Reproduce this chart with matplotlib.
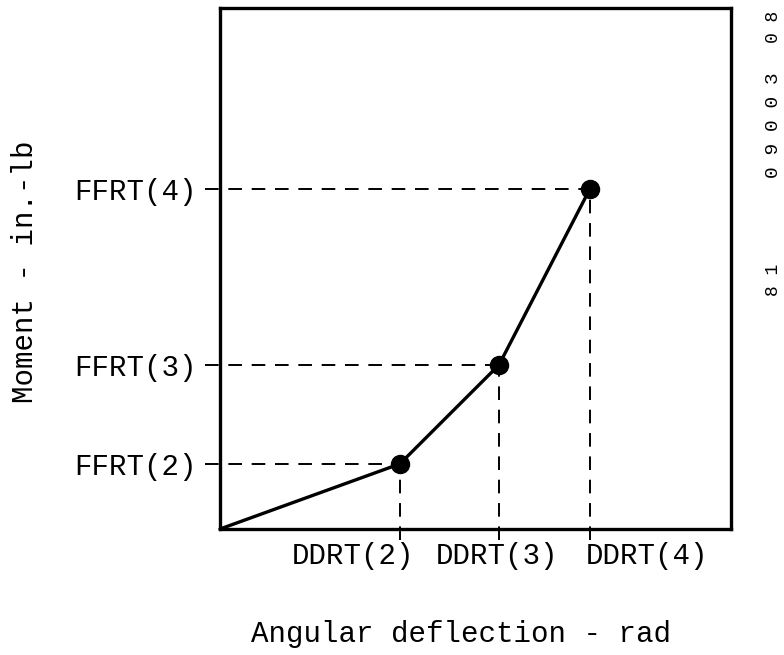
import matplotlib
matplotlib.use("Agg")
import matplotlib.pyplot as plt
from matplotlib.transforms import blended_transform_factory, offset_copy

# Data (normalised)
deflection = [0.0, 0.352, 0.546, 0.724]
moment = [0.0, 0.125, 0.315, 0.653]
x_labels = ["DDRT(2)", "DDRT(3)", "DDRT(4)"]
y_labels = ["FFRT(2)", "FFRT(3)", "FFRT(4)"]
x_title = "Angular deflection - rad"
y_title = "Moment - in.-lb"
side_code = ["8 1", "0 9 0 0 3", "0 8"]

plt.rcParams['font.family'] = ['Liberation Mono', 'DejaVu Sans Mono']
FS = 21

fig = plt.figure(figsize=(7.84, 6.55), dpi=100)
ax = fig.add_axes([220/784, 1-529/655, 511/784, 521/655])
ax.set_xlim(0, 1)
ax.set_ylim(0, 1)
for s in ax.spines.values():
    s.set_linewidth(2.4)

# curve
ax.plot(deflection, moment, color='black', lw=2.4, solid_capstyle='round', zorder=3, clip_on=False)
ax.plot(deflection[1:], moment[1:], 'o', color='black', ms=13, zorder=4)

# dashed guide lines
dash = (7, 5)
for xv, yv in zip(deflection[1:], moment[1:]):
    ax.plot([-0.03, xv], [yv, yv], color='black', lw=1.4, dashes=dash, clip_on=False)
    ax.plot([xv, xv], [-0.022, yv], color='black', lw=1.4, dashes=dash, clip_on=False)

# y tick labels
ax.set_yticks(moment[1:])
ax.set_yticklabels(y_labels, fontsize=FS)
ax.tick_params(axis='y', length=0, pad=17)
ax.set_xticks([])

# x labels (placed as in the original, not centred)
x_left_offsets = [-108, -63, -4]  # pixels relative to each point
trans = blended_transform_factory(ax.transData, ax.transAxes)
for xv, lab, off in zip(deflection[1:], x_labels, x_left_offsets):
    t = offset_copy(trans, fig=fig, x=off * 72 / 100, y=0, units='points')
    ax.text(xv, -0.025, lab, transform=t, ha='left', va='top', fontsize=FS)

fig.text(461/784, 1-634/655, x_title, ha='center', va='center', fontsize=FS)
fig.text(25/784, 1-272/655, y_title, ha='center', va='center', rotation=90, fontsize=FS)

# side code
fig.text(773/784, 1-280/655, side_code[0], ha='center', va='center', rotation=90, fontsize=13)
fig.text(773/784, 1-125/655, side_code[1], ha='center', va='center', rotation=90, fontsize=14)
fig.text(773/784, 1-27/655, side_code[2], ha='center', va='center', rotation=90, fontsize=13)

fig.savefig("out.png", dpi=100)
